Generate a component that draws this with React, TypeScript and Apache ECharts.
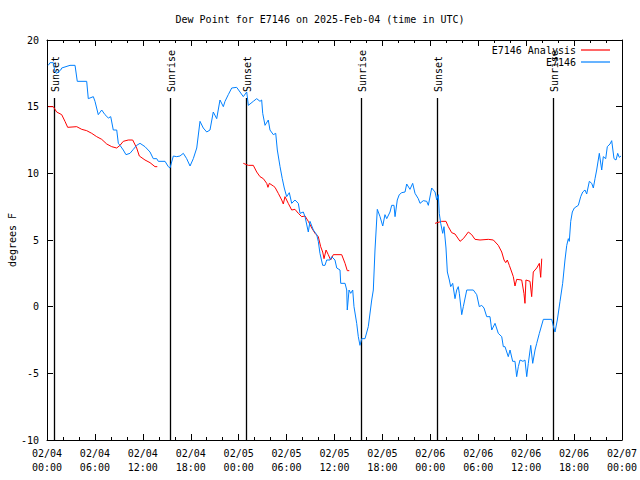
import React, { useEffect, useRef } from "react";
import * as echarts from "echarts";

// Hours since 2025-02-04 00:00 UTC
const obsTimes = [
  0.16, 0.38, 0.79, 1.0, 1.21, 1.72, 1.84, 2.88, 3.51, 3.79, 4.97, 5.17, 5.8, 6.01, 6.42, 6.85, 7.26, 7.68, 7.98,
  8.3, 8.73, 8.93, 9.14, 9.55, 9.89, 10.39, 10.81, 11.23, 11.65, 12.27, 12.9, 13.31, 13.74, 13.94, 14.78, 15.19,
  15.4, 15.82, 16.24, 16.65, 17.07, 17.49, 17.91, 18.32, 18.75, 19.16, 19.57, 20.0, 20.41, 20.82, 21.25, 21.66,
  22.08, 22.29, 22.7, 23.13, 23.75, 24.17, 24.58, 25.01, 25.21, 25.83, 26.26, 26.67, 26.88, 27.01, 27.3, 27.71,
  27.92, 28.34, 28.64, 28.84, 29.18, 29.46, 29.71, 30.01, 30.34, 30.64, 31.05, 31.47, 31.68, 32.09, 32.31, 32.72,
  32.93, 33.35, 33.77, 33.97, 34.18, 34.52, 34.81, 35.02, 35.44, 35.65, 36.06, 36.28, 36.69, 36.78, 37.32, 37.53,
  37.6, 37.82, 38.03, 38.28, 38.44, 38.78, 38.98, 39.19, 39.41, 39.82, 40.23, 40.66, 40.86, 41.07, 41.36, 41.7,
  42.04, 42.32, 42.54, 42.95, 43.16, 43.45, 43.58, 43.86, 44.11, 44.42, 44.83, 45.04, 45.45, 45.79, 46.08, 46.49,
  46.71, 47.12, 47.55, 47.75, 48.17, 48.59, 48.8, 49.0, 49.12, 49.3, 49.55, 49.71, 49.96, 50.13, 50.38, 50.55,
  50.8, 51.09, 51.3, 51.5, 51.63, 51.93, 52.13, 52.56, 53.38, 53.81, 54.13, 54.43, 54.72, 55.06, 55.47, 55.69,
  56.1, 56.51, 56.94, 57.14, 57.35, 57.76, 57.98, 58.31, 58.6, 58.81, 59.02, 59.23, 59.6, 59.85, 60.07, 60.27,
  60.57, 60.82, 61.11, 61.32, 61.65, 62.15, 63.2, 63.4, 63.61, 63.9, 64.24, 64.57, 64.86, 65.08, 65.28, 65.4,
  65.58, 65.78, 66.03, 66.53, 66.83, 67.08, 67.37, 67.58, 67.91, 68.21, 68.41, 68.62, 68.83, 69.16, 69.46, 69.66,
  69.96, 70.16, 70.5, 70.71, 71.0, 71.25, 71.46, 71.66, 71.88,
];
const obsValues = [
  18.1, 18.3, 18.3, 17.6, 17.5, 17.75, 17.9, 18.1, 18.1, 16.9, 16.9, 15.6, 15.75, 15.4, 14.4, 14.75, 14.4, 14.15,
  14.25, 13.25, 13.25, 12.25, 12.1, 11.75, 11.4, 11.5, 11.8, 12.1, 12.25, 12.0, 11.6, 11.1, 11.1, 10.9, 10.9, 10.5,
  10.4, 11.3, 11.25, 11.3, 11.5, 11.1, 10.55, 11.1, 11.9, 13.9, 13.4, 13.1, 13.25, 14.6, 14.1, 15.5, 15.0, 15.4,
  15.9, 16.4, 16.45, 16.1, 15.75, 16.1, 15.1, 15.4, 15.6, 15.4, 15.5, 14.5, 13.6, 14.0, 13.25, 12.9, 13.0, 11.75,
  10.5, 9.6, 8.9, 8.25, 8.55, 7.75, 8.0, 7.75, 7.0, 7.1, 6.75, 5.6, 6.4, 5.75, 5.4, 4.9, 4.0, 3.1, 3.1, 3.5, 3.5,
  3.75, 3.5, 2.9, 2.75, 1.75, 1.75, 1.25, -0.25, 1.25, 1.0, 1.25, 0.0, -1.25, -2.25, -2.9, -2.4, -2.4, -1.5, 0.5,
  1.25, 4.25, 7.3, 6.75, 6.05, 6.9, 6.6, 7.1, 7.6, 7.6, 6.75, 8.0, 8.4, 8.55, 8.6, 9.2, 8.8, 9.25, 8.5, 8.1, 7.75,
  7.95, 7.9, 7.6, 8.9, 8.6, 8.0, 8.4, 7.0, 6.25, 5.5, 6.0, 4.4, 2.6, 2.0, 1.5, 1.75, 0.6, 1.25, 1.5, 1.0, -0.6, 0.0,
  1.25, 1.25, 0.9, 0.0, 0.1, -0.1, -0.75, -0.75, -1.75, -1.25, -2.0, -2.25, -3.0, -3.0, -3.75, -3.25, -4.1, -4.1,
  -5.25, -4.5, -4.0, -4.1, -4.0, -5.25, -4.25, -2.9, -4.25, -3.25, -2.75, -2.0, -0.95, -0.95, -1.45, -1.9, -1.0,
  0.4, 1.75, 3.5, 4.6, 5.1, 4.9, 6.4, 7.1, 7.4, 7.6, 8.25, 8.6, 8.75, 8.45, 9.4, 9.25, 8.9, 9.6, 10.25, 11.5, 10.25,
  11.25, 11.1, 12.0, 12.2, 12.45, 11.1, 11.0, 11.5, 11.2, 11.3,
];

// Analysis series (null = gap between runs)
const anaTimes = [
  0.16, 0.79, 1.21, 1.84, 2.25, 2.59, 3.72, 4.35, 4.97, 5.6, 6.22, 6.85, 7.48, 8.1, 8.73, 9.14, 9.55, 10.18, 10.73,
  11.23, 11.56, 12.27, 12.9, 13.52, 13.81, 19.0,
  24.58, 25.21, 25.83, 26.26, 26.67, 27.09, 27.51, 27.67, 27.84, 28.34, 28.55, 28.96, 29.39, 29.59, 29.8, 30.21,
  30.64, 31.05, 31.47, 31.89, 32.31, 32.72, 33.15, 33.56, 33.97, 34.27, 34.52, 34.69, 34.94, 35.22, 35.52, 35.85,
  36.9, 37.32, 37.6, 37.85, 43.0,
  48.59, 49.42, 49.96, 50.25, 50.67, 51.09, 51.72, 52.13, 52.76, 53.18, 53.59, 54.22, 55.26, 55.89, 56.51, 56.94,
  57.23, 57.44, 57.64, 57.89, 58.19, 58.39, 58.6, 58.81, 59.44, 59.72, 59.85, 59.97, 60.48, 60.69, 60.89, 61.32,
  61.65, 61.82, 61.95,
];
const anaValues: (number | null)[] = [
  15.0, 15.0, 14.6, 14.4, 13.9, 13.45, 13.5, 13.3, 13.2, 13.0, 12.75, 12.55, 12.2, 12.0, 11.9, 12.1, 12.4, 12.5,
  12.5, 11.9, 11.3, 11.0, 10.8, 10.5, 10.5, null,
  10.75, 10.6, 10.6, 10.1, 9.75, 9.6, 9.25, 8.95, 9.25, 9.05, 8.95, 8.5, 8.0, 7.7, 8.25, 7.75, 7.25, 7.3, 7.0, 6.75,
  6.8, 6.4, 5.9, 5.5, 5.25, 4.5, 4.1, 3.6, 4.25, 3.9, 3.5, 3.9, 3.9, 3.25, 2.7, 2.7, null,
  6.25, 6.4, 6.4, 6.0, 5.55, 5.45, 4.9, 5.1, 5.6, 5.4, 5.05, 5.0, 5.05, 5.0, 4.6, 4.1, 3.5, 3.3, 3.5, 3.1, 2.6,
  2.25, 1.55, 2.05, 2.0, 1.0, 0.25, 2.0, 1.9, 0.75, 2.6, 2.9, 3.25, 2.2, 3.6,
];

const eventTimes = [0.88, 15.4, 24.9, 39.3, 48.85, 63.4];
const eventLabels = ["Sunset", "Sunrise", "Sunset", "Sunrise", "Sunset", "Sunrise"];

const FONT = "DejaVu Sans Mono";

function fmtTime(v: number): string {
  const day = 4 + Math.floor(v / 24);
  const hr = v % 24;
  return `02/${String(day).padStart(2, "0")}\n${String(hr).padStart(2, "0")}:00`;
}

export default function App() {
  const ref = useRef<HTMLDivElement>(null);
  useEffect(() => {
    document.body.style.margin = "0";
    if (!ref.current) return;
    const chart = echarts.init(ref.current, null, { renderer: "svg" });
    const axisCommon = {
      axisLine: { show: true, onZero: false, lineStyle: { color: "#000", width: 1 } },
      splitLine: { show: false },
    };
    chart.setOption({
      animation: false,
      backgroundColor: "#fff",
      title: {
        text: "Dew Point for E7146 on 2025-Feb-04 (time in UTC)",
        left: "center",
        top: 9,
        textStyle: { fontFamily: FONT, fontSize: 10, fontWeight: "normal", color: "#000" },
      },
      legend: {
        data: ["E7146 Analysis", "E7146"],
        orient: "vertical",
        right: 30,
        top: 44,
        align: "right",
        icon: "rect",
        itemWidth: 29,
        itemHeight: 1.2,
        itemGap: 0,
        padding: 0,
        textStyle: { fontFamily: FONT, fontSize: 10, color: "#000", lineHeight: 12 },
      },
      grid: { left: 47, right: 18, top: 40, bottom: 40, containLabel: false, outerBoundsMode: "none" },
      xAxis: [
        {
          type: "value",
          min: 0,
          max: 72,
          interval: 6,
          ...axisCommon,
          axisTick: { show: true, inside: true, length: 6, lineStyle: { color: "#000" } },
          minorTick: { show: true, splitNumber: 3, length: 3, lineStyle: { color: "#000" } },
          axisLabel: {
            formatter: fmtTime,
            fontFamily: FONT,
            fontSize: 10,
            color: "#000",
            lineHeight: 14,
            margin: 6,
          },
        },
        {
          type: "value",
          position: "top",
          min: 0,
          max: 72,
          interval: 6,
          ...axisCommon,
          axisTick: { show: true, inside: true, length: 6, lineStyle: { color: "#000" } },
          minorTick: { show: true, splitNumber: 3, length: 3, lineStyle: { color: "#000" } },
          axisLabel: { show: false },
        },
      ],
      yAxis: [
        {
          type: "value",
          min: -10,
          max: 20,
          interval: 5,
          name: "degrees F",
          nameLocation: "middle",
          nameGap: 30,
          nameMoveOverlap: false,
          nameRotate: 90,
          nameTextStyle: { fontFamily: FONT, fontSize: 10, color: "#000" },
          ...axisCommon,
          axisTick: { show: true, inside: true, length: 6, lineStyle: { color: "#000" } },
          axisLabel: { fontFamily: FONT, fontSize: 10, color: "#000", margin: 8 },
        },
        {
          type: "value",
          position: "right",
          min: -10,
          max: 20,
          interval: 5,
          ...axisCommon,
          axisTick: { show: true, inside: true, length: 6, lineStyle: { color: "#000" } },
          axisLabel: { show: false },
        },
      ],
      series: [
        {
          type: "custom",
          name: "events",
          xAxisIndex: 0,
          yAxisIndex: 0,
          silent: true,
          z: 1,
          data: eventTimes.map((t) => [t, 0]),
          renderItem: (params: any, api: any) => {
            const x = Math.round(api.coord([api.value(0), 0])[0]) + 0.5;
            const cs = params.coordSys;
            const bottom = cs.y + cs.height;
            return {
              type: "group",
              children: [
                {
                  type: "line",
                  shape: { x1: x, y1: bottom, x2: x, y2: cs.y + 58 },
                  style: { stroke: "#000", lineWidth: 1.3 },
                },
                {
                  type: "text",
                  x: x + 1,
                  y: cs.y + 52,
                  rotation: Math.PI / 2,
                  style: {
                    text: eventLabels[params.dataIndex],
                    textAlign: "left",
                    textVerticalAlign: "middle",
                    font: `10px '${FONT}'`,
                    fill: "#000",
                  },
                },
              ],
            };
          },
        },
        {
          type: "line",
          name: "E7146 Analysis",
          data: anaTimes.map((t, i) => [t, anaValues[i]]),
          showSymbol: false,
          symbol: "none",
          connectNulls: false,
          lineStyle: { color: "#ff0000", width: 1 },
          itemStyle: { color: "#ff0000" },
          z: 3,
        },
        {
          type: "line",
          name: "E7146",
          data: obsTimes.map((t, i) => [t, obsValues[i]]),
          showSymbol: false,
          symbol: "none",
          lineStyle: { color: "#0080ff", width: 1 },
          itemStyle: { color: "#0080ff" },
          z: 4,
        },
      ],
    });
    return () => chart.dispose();
  }, []);
  return <div ref={ref} style={{ width: 640, height: 480 }} />;
}
